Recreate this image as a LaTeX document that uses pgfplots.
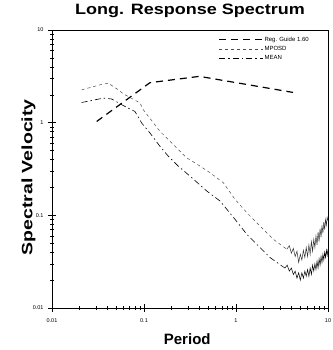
\documentclass[border=0pt]{standalone}
\usepackage{graphicx}
\usepackage{fontspec}
\setmainfont{Liberation Sans}
\usepackage{pgfplots}
\pgfplotsset{compat=1.18}
\usetikzlibrary{calc}
\begin{document}
\begin{tikzpicture}
\begin{axis}[
  name=ax,
  scale only axis,
  width=276pt, height=278pt,
  xmode=log, ymode=log,
  xmin=0.01, xmax=10, ymin=0.01, ymax=10,
  xtick={0.01,0.1,1,10}, xticklabels={0.01,0.1,1,10},
  ytick={0.01,0.1,1,10}, yticklabels={0.01,0.1,1,10},
  tick pos=left,
  tick align=center,
  major tick length=8pt, minor tick length=4pt,
  every tick/.style={black, line width=0.5pt},
  axis line style={line width=0.6pt},
  tick label style={font=\fontsize{5.5}{6}\selectfont},
  xticklabel style={yshift=-3pt},
  yticklabel style={xshift=-1pt},
  every axis title shift=0pt,
  title={\scalebox{1.2}[1]{\bfseries\fontsize{15}{16}\selectfont Long. Response Spectrum}},
  title style={at={(axis description cs:0.5,1)}, anchor=base, yshift=15pt, inner sep=0pt},
  xlabel={\bfseries\fontsize{15}{16}\selectfont Period},
  xlabel style={at={(axis description cs:0.49,0)}, anchor=base, yshift=-36pt, inner sep=0pt},
  ylabel={\scalebox{1.3}[1]{\bfseries\fontsize{15}{16}\selectfont Spectral Velocity}},
  ylabel style={at={(axis description cs:-0.085,0.47)}, anchor=center, inner sep=0pt},
  legend style={at={(0.6,0.982)}, anchor=north west, draw=none, fill=none,
    font=\fontsize{6}{6}\selectfont, row sep=2.6pt, inner sep=1pt,
    nodes={inner sep=0.5pt}},
  legend cell align=left,
  legend image code/.code={\draw[#1] (0pt,0pt) -- (44pt,0pt);},
]
\addplot[black, line width=1.2pt, dash pattern=on 7pt off 5pt] coordinates {
(0.0306,1.03) (0.116,2.70) (0.40,3.16) (4.17,2.12)
};
\addlegendentry{Reg. Guide 1.60}
\addplot[black!70, line width=0.5pt, dash pattern=on 3pt off 3pt] coordinates {
(0.021,2.26) (0.0333,2.56) (0.0409,2.67) (0.0526,2.26) (0.0596,2.05) (0.0905,1.63)
(0.0982,1.38) (0.126,1.0) (0.149,0.806) (0.195,0.62) (0.257,0.472) (0.291,0.417)
(0.358,0.369) (0.522,0.288) (0.728,0.225) (0.975,0.149) (1.31,0.107) (1.82,0.0767)
(2.54,0.0552) (3.56,0.0431)
};
\addlegendentry{MPOSD}
\addplot[black, line width=0.6pt, dash pattern=on 6pt off 3pt on 1.5pt off 3pt] coordinates {
(0.021,1.65) (0.0361,1.84) (0.0446,1.80) (0.0573,1.56) (0.0798,1.32) (0.0944,0.99)
(0.116,0.775) (0.149,0.556) (0.184,0.434) (0.236,0.339) (0.316,0.265) (0.481,0.183)
(0.670,0.143) (0.975,0.0906) (1.31,0.0625) (1.75,0.0468) (2.34,0.0351) (3.14,0.0285)
};
\addlegendentry{MEAN}
% noisy tails
\addplot[black!80, line width=0.5pt, forget plot] coordinates {
(3.56,0.0431) (3.8,0.047) (4.0,0.039) (4.2,0.044) (4.4,0.036) (4.6,0.041) (4.8,0.031)
(5.0,0.038) (5.2,0.033) (5.4,0.042) (5.6,0.035) (5.8,0.045) (6.0,0.036) (6.2,0.048)
(6.4,0.038) (6.6,0.052) (6.8,0.041) (7.0,0.055) (7.2,0.045) (7.4,0.060) (7.6,0.048)
(7.8,0.066) (8.0,0.052) (8.2,0.072) (8.4,0.058) (8.6,0.078) (8.8,0.064) (9.0,0.085)
(9.2,0.070) (9.4,0.090) (9.6,0.078) (9.8,0.095) (10,0.088)
};
\addplot[black, line width=0.5pt, forget plot] coordinates {
(3.14,0.0285) (3.4,0.027) (3.6,0.029) (3.8,0.025) (4.0,0.027) (4.2,0.023) (4.4,0.025)
(4.6,0.021) (4.8,0.024) (5.0,0.020) (5.2,0.024) (5.4,0.021) (5.6,0.025) (5.8,0.022)
(6.0,0.026) (6.2,0.022) (6.4,0.027) (6.6,0.023) (6.8,0.029) (7.0,0.025) (7.2,0.030)
(7.4,0.026) (7.6,0.032) (7.8,0.027) (8.0,0.034) (8.2,0.029) (8.4,0.036) (8.6,0.031)
(8.8,0.038) (9.0,0.033) (9.2,0.040) (9.4,0.035) (9.6,0.042) (9.8,0.037) (10,0.043)
};
\end{axis}
\pgfresetboundingbox
\path ($(ax.south west)+(-52pt,-42pt)$) rectangle ($(ax.north east)+(5pt,30pt)$);
\end{tikzpicture}
\end{document}
